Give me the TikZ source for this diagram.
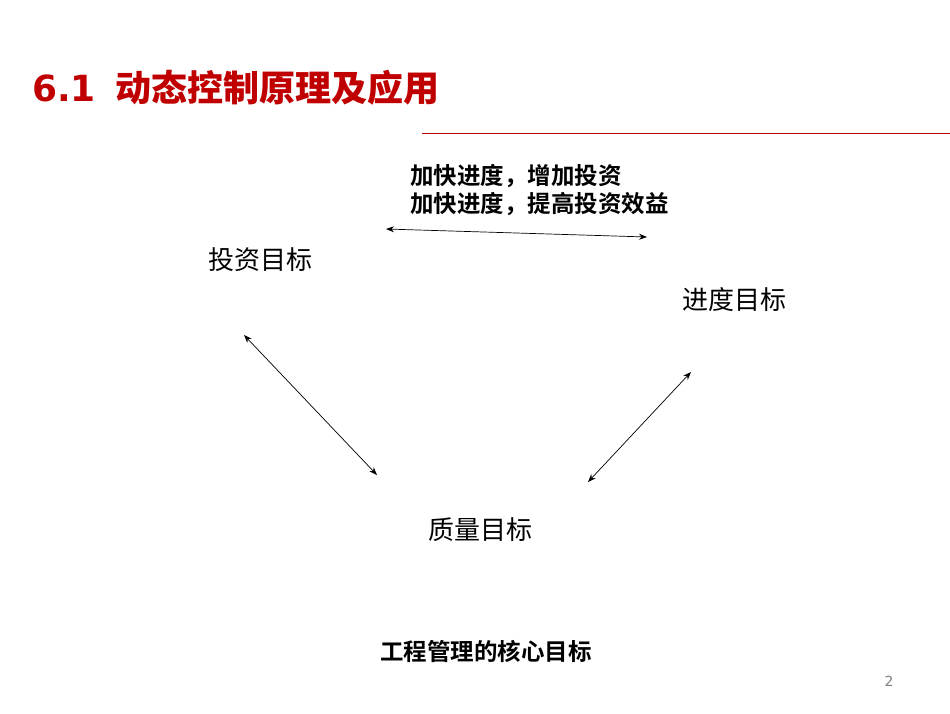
\documentclass[tikz,border=0pt]{standalone}
\usepackage{fontspec}
\setmainfont{DejaVu Sans}
\newfontfamily\cjk{Noto Sans CJK SC}
\newfontfamily\cjkb{Noto Sans CJK SC Bold}
\usetikzlibrary{arrows.meta}
\definecolor{titlered}{HTML}{C00000}
\tikzset{lbl/.style={font=\cjk\fontsize{26}{30}\selectfont,inner sep=0pt},
bl/.style={font=\cjkb\fontsize{23.5}{27}\selectfont,inner sep=0pt,anchor=west},
dbl/.style={{Stealth[length=8pt,width=6pt]}-{Stealth[length=8pt,width=6pt]},line width=0.7pt}}
\begin{document}
\begin{tikzpicture}[x=1pt,y=-1pt]
\useasboundingbox (0,0) rectangle (950,713);
\node[anchor=west,inner sep=0pt,text=titlered,font=\bfseries\fontsize{36}{40}\selectfont] (title) at (32,88) {6.1\hspace{20pt}{\cjkb 动态控制原理及应用}};
\draw[titlered,line width=0.7pt] (422,133) coordinate (r1) -- (950,133) coordinate (r2);
\node[bl] (t1) at (410,176) {加快进度，增加投资};
\node[bl] (t2) at (410,204) {加快进度，提高投资效益};
\coordinate (a1) at (386,229); \coordinate (a2) at (647,237);
\draw[dbl] (a1) -- (a2);
\node[lbl] (inv) at (260,260) {投资目标};
\node[lbl] (sch) at (734,300) {进度目标};
\node[lbl] (qua) at (480,530) {质量目标};
\coordinate (b1) at (244,335); \coordinate (b2) at (377,475);
\coordinate (c1) at (588,482); \coordinate (c2) at (691,372);
\draw[dbl] (b1) -- (b2);
\draw[dbl] (c1) -- (c2);
\node[font=\cjkb\fontsize{23.5}{27}\selectfont,inner sep=0pt] (cap) at (486,651) {工程管理的核心目标};
\node[text=gray,font=\fontsize{14}{16}\selectfont,inner sep=0pt] (pg) at (889,681) {2};
\end{tikzpicture}
\end{document}
